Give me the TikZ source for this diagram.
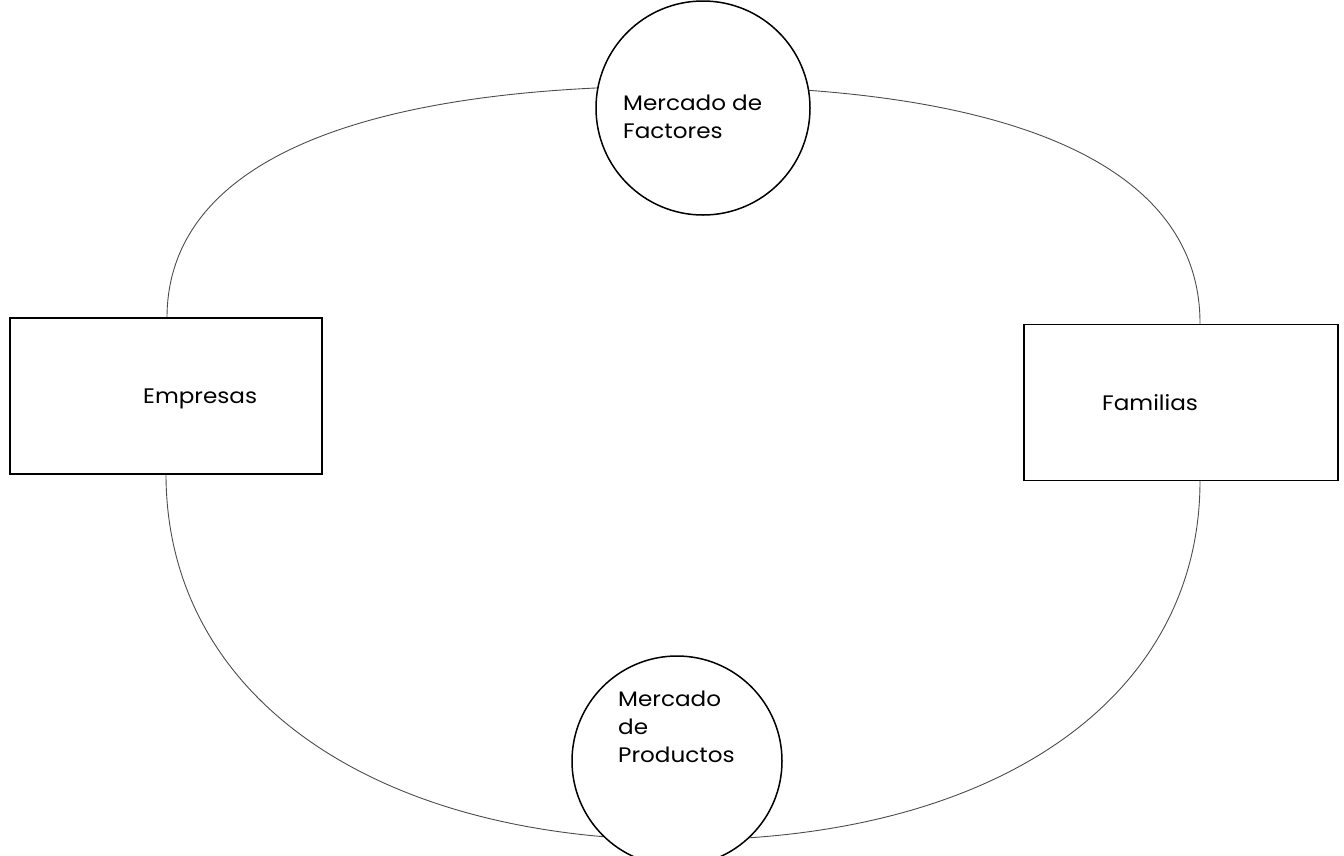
\documentclass[tikz,border=0pt]{standalone}
\usepackage{fontspec}
\setmainfont{Poppins}[FakeStretch=1.1]
\tikzset{
  flow/.style={draw=black!70, line width=0.9pt},
  market/.style={circle, draw=black, line width=1.5pt, fill=white, minimum size=#1, inner sep=0pt},
  agent/.style={rectangle, draw=black, line width=1.5pt, fill=white, minimum width=#1, minimum height=156pt, inner sep=0pt},
  lbl/.style={font=\fontsize{21}{28}\selectfont, align=left, inner sep=0pt, anchor=base west}
}
\begin{document}
\begin{tikzpicture}[x=1pt,y=-1pt]
\useasboundingbox (0,0) rectangle (1344,855);
% circular flow path
\coordinate (lt) at (167,318);
\coordinate (lb) at (166,474);
\coordinate (rt) at (1200,323);
\coordinate (rb) at (1200,481);
\coordinate (top) at (683.5,86);
\coordinate (bot) at (683,840);
\draw[flow] (lb) -- (lt)
  .. controls (167,167) and (347,86) .. (top)
  .. controls (1020,86) and (1200,169) .. (rt)
  -- (rb)
  .. controls (1200,700) and (994,840) .. (bot)
  .. controls (372,840) and (166,695) .. (lb);
% agents
\node[agent=312pt] (empresas) at (166,396) {};
\node[agent=314pt] (familias) at (1181,402.5) {};
% markets
\node[market=214pt] (factores) at (703,108) {};
\node[market=210pt] (productos) at (677,761) {};
% labels (anchor = baseline of last line)
\node[lbl] (tfac) at (623,138) {Mercado de\\Factores};
\node[lbl] (tpro) at (618,762) {Mercado\\de\\Productos};
\node[lbl] (temp) at (143,403) {Empresas};
\node[lbl] (tfam) at (1102,410) {Familias};
\end{tikzpicture}
\end{document}
